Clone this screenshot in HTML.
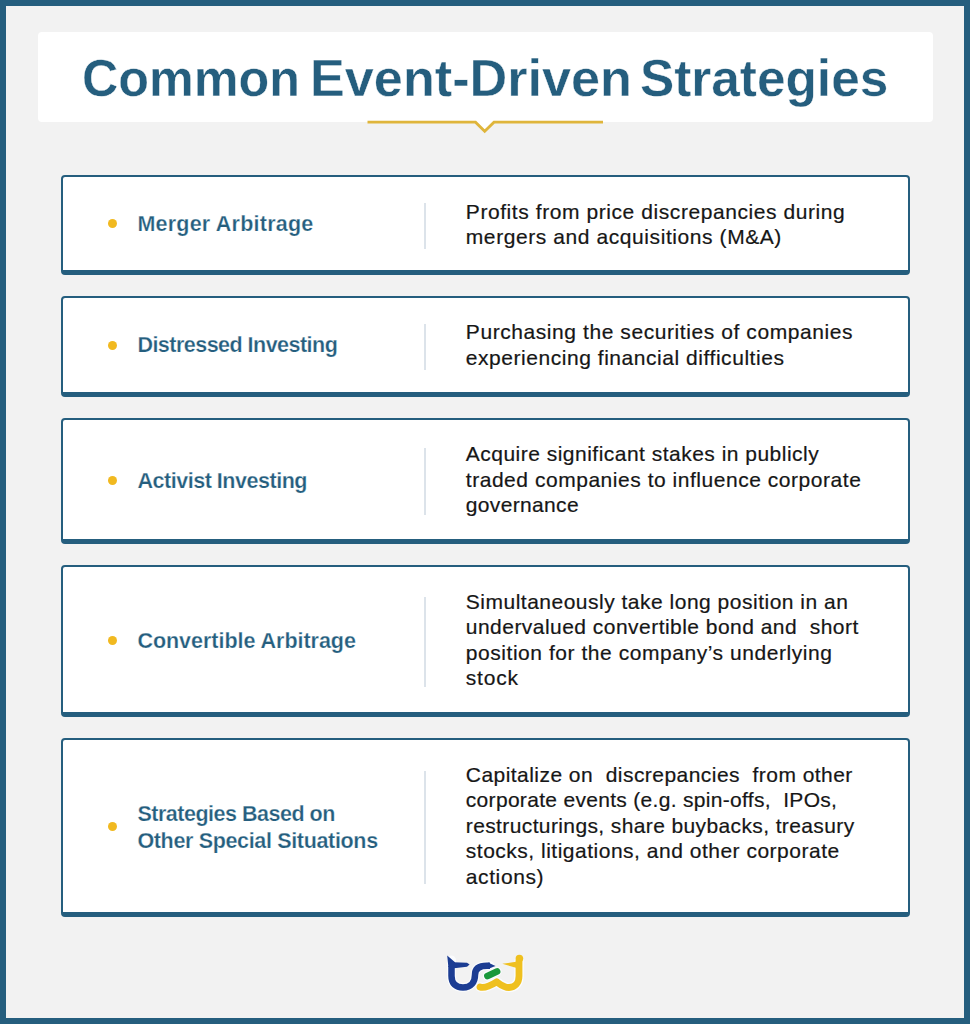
<!DOCTYPE html>
<html>
<head>
<meta charset="utf-8">
<style>
html,body{margin:0;padding:0;}
body{width:970px;height:1024px;position:relative;overflow:hidden;background:#f2f2f2;font-family:"Liberation Sans",sans-serif;}
.frame{position:absolute;left:0;top:0;width:958px;height:1012px;border:6px solid #255e7e;}
.titlebox{position:absolute;left:37.5px;top:32px;width:895px;height:89.5px;background:#fff;border-radius:4px;}
.title{position:absolute;left:0;top:0;white-space:nowrap;font-weight:bold;color:#255e7e;transform-origin:0 0;-webkit-text-stroke:0.4px #fff;}
.card{position:absolute;left:60.5px;width:849px;background:#fff;border:2.5px solid #255e7e;border-bottom-width:5px;border-radius:4px;box-sizing:border-box;}
.dot{position:absolute;width:9px;height:9px;border-radius:50%;background:#f1b920;}
.nm{position:absolute;left:137.4px;font-weight:bold;font-size:21.5px;line-height:27px;color:#255e7e;white-space:nowrap;-webkit-text-stroke:0.25px #fff;paint-order:normal;}
.sep{position:absolute;left:424px;width:2px;background:#dce3ea;}
.ln{position:absolute;left:465.8px;font-size:21px;line-height:25.5px;color:#161616;white-space:nowrap;-webkit-text-stroke:0.2px #161616;}
</style>
</head>
<body>
<div class="frame"></div>
<div class="titlebox"></div>
<div class="title" style="left:82.00px;top:52.2px;font-size:52px;line-height:52px;transform:scaleX(0.9676)">Common</div>
<div class="title" style="left:309.50px;top:52.2px;font-size:52px;line-height:52px;transform:scaleX(1.0039)">Event-Driven</div>
<div class="title" style="left:640.00px;top:52.2px;font-size:52px;line-height:52px;transform:scaleX(0.9872)">Strategies</div>
<svg style="position:absolute;left:0;top:0" width="970" height="140" viewBox="0 0 970 140">
<polygon points="475.5,121 484.7,130.5 494,121" fill="#fff"/>
<polyline points="367.5,122.2 475.5,122.2 484.7,131.2 494,122.2 603,122.2" fill="none" stroke="#dfb53b" stroke-width="2.8" stroke-linejoin="miter"/>
</svg>
<div class="card" style="top:175px;height:100px;"></div>
<div class="dot" style="left:107.9px;top:219.2px;"></div>
<div class="nm" style="top:211.35px;letter-spacing:0.227px">Merger Arbitrage</div>
<div class="sep" style="top:203px;height:46px;"></div>
<div class="ln" style="top:198.67px;letter-spacing:0.574px">Profits from price discrepancies during</div>
<div class="ln" style="top:224.17px;letter-spacing:0.579px">mergers and acquisitions (M&amp;A)</div>
<div class="card" style="top:296px;height:100.5px;"></div>
<div class="dot" style="left:107.9px;top:340.5px;"></div>
<div class="nm" style="top:332.35px;letter-spacing:-0.521px">Distressed Investing</div>
<div class="sep" style="top:324px;height:46px;"></div>
<div class="ln" style="top:319.47px;letter-spacing:0.576px">Purchasing the securities of companies</div>
<div class="ln" style="top:344.97px;letter-spacing:0.544px">experiencing financial difficulties</div>
<div class="card" style="top:417.5px;height:126.5px;"></div>
<div class="dot" style="left:107.9px;top:475.5px;"></div>
<div class="nm" style="top:468.05px;letter-spacing:-0.465px">Activist Investing</div>
<div class="sep" style="top:447.5px;height:67.5px;"></div>
<div class="ln" style="top:441.07px;letter-spacing:0.484px">Acquire significant stakes in publicly</div>
<div class="ln" style="top:466.57px;letter-spacing:0.534px">traded companies to influence corporate</div>
<div class="ln" style="top:492.07px;letter-spacing:0.344px">governance</div>
<div class="card" style="top:565.2px;height:152.3px;"></div>
<div class="dot" style="left:107.9px;top:636.0px;"></div>
<div class="nm" style="top:628.15px;letter-spacing:-0.025px">Convertible Arbitrage</div>
<div class="sep" style="top:596.6px;height:90.89999999999998px;"></div>
<div class="ln" style="top:588.87px;letter-spacing:0.500px">Simultaneously take long position in an</div>
<div class="ln" style="top:614.37px;letter-spacing:0.466px">undervalued convertible bond and&nbsp; short</div>
<div class="ln" style="top:639.87px;letter-spacing:0.547px">position for the company’s underlying</div>
<div class="ln" style="top:665.37px;letter-spacing:0.800px">stock</div>
<div class="card" style="top:738.3px;height:178.3px;"></div>
<div class="dot" style="left:107.9px;top:822.0px;"></div>
<div class="nm" style="top:800.85px;letter-spacing:-0.489px">Strategies Based on</div>
<div class="nm" style="top:827.85px;letter-spacing:-0.339px">Other Special Situations</div>
<div class="sep" style="top:770.8px;height:113.20000000000005px;"></div>
<div class="ln" style="top:761.77px;letter-spacing:0.454px">Capitalize on&nbsp; discrepancies&nbsp; from other</div>
<div class="ln" style="top:787.27px;letter-spacing:0.308px">corporate events (e.g. spin-offs,&nbsp; IPOs,</div>
<div class="ln" style="top:812.77px;letter-spacing:0.382px">restructurings, share buybacks, treasury</div>
<div class="ln" style="top:838.27px;letter-spacing:0.505px">stocks, litigations, and other corporate</div>
<div class="ln" style="top:863.77px;letter-spacing:0.600px">actions)</div>
<svg style="position:absolute;left:0;top:0" width="970" height="1024" viewBox="0 0 970 1024">
<g fill="none" stroke-linecap="round" stroke-linejoin="round" stroke="#fbfdff" opacity="0.9">
<path d="M451.5 960 L451.5 976 C451.5 984 456 987.5 463 987.5 C471 987.5 475 982 475 975 C475 968 480 965.8 487 965.8 L490 965.8" stroke-width="9"/>
<path d="M480 987 C484 988.5 490 986 496.7 981.8 C501 985 504 987.5 509 987.5 C515 987.5 519 983 519 976 L519 961" stroke-width="9.5"/>
<path d="M487.5 976 L497 971.5" stroke-width="9.5"/>
</g>
<g fill="none" stroke-linejoin="round">
<path d="M451.5 966 L451.5 976 C451.5 984 456 987.5 463 987.5 C471 987.5 475 982 475 975 C475 968 480 965.8 487 965.8 L490 965.8" stroke="#1c3d93" stroke-width="6.5"/>
<path d="M480 987 C484 988.5 490 986 496.7 981.8 C501 985 504 987.5 509 987.5 C515 987.5 519 983 519 976 L519 961" stroke="#efc01f" stroke-width="6.8" stroke-linecap="round"/>
<path d="M487.5 976 L497 971.5" stroke="#1a983a" stroke-width="6.8" stroke-linecap="round"/>
</g>
<polygon points="447.2,955.5 455,962.3 455,967 454.75,967 448.25,967 448.25,966" fill="#1c3d93"/>
<polygon points="454,962.3 467,962.8 469.6,964.5 467,966.8 454,968.3" fill="#1c3d93"/>
<polygon points="488,962.6 495.5,966 488,969" fill="#1c3d93"/>
<polygon points="502.3,963.8 516,961.8 516,967.8" fill="#efc01f"/>
<circle cx="519.4" cy="958.5" r="3.8" fill="#efc01f"/>
</svg>
</body>
</html>
